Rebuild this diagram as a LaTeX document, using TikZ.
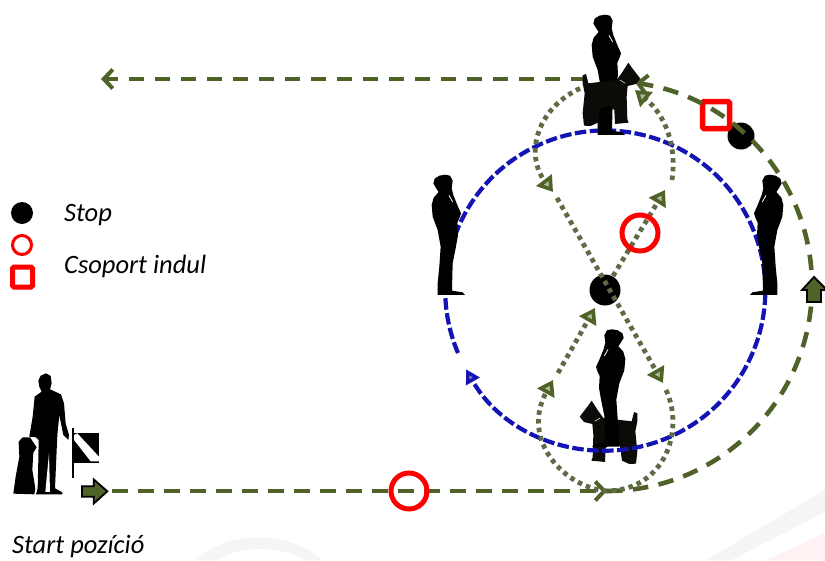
\documentclass[tikz,border=0pt]{standalone}
\usepackage{fontspec}
\setmainfont{Carlito}
\usetikzlibrary{arrows.meta}
\definecolor{olive}{HTML}{4F6228}
\definecolor{dotolive}{HTML}{5E6B45}
\definecolor{ringblue}{HTML}{1414B4}
\definecolor{markred}{HTML}{FF0000}
\definecolor{dogblack}{HTML}{0D0B08}
\tikzset{
  dashline/.style={draw=olive,line width=4.6pt,dash pattern=on 15.5pt off 10.5pt},
  dotline/.style={draw=dotolive,line width=4.8pt,dash pattern=on 4.5pt off 4.2pt},
  bluering/.style={draw=ringblue,line width=4.2pt,dash pattern=on 11.5pt off 3.5pt},
  dashtip/.style={-{Straight Barb[length=9pt,width=19pt,line width=4pt,color=olive]}},
  dottip/.style={-{Triangle[open,fill=olive!45!white,length=15pt,width=19pt,line width=3.6pt,color=olive]}},
  bluetip/.style={-{Triangle[open,fill=ringblue!55!white,length=14pt,width=15pt,line width=3.4pt,color=ringblue]}},
  redring/.style={circle,draw=markred,line width=5pt,minimum size=36pt,inner sep=0pt},
  stopdot/.style={circle,fill=black,inner sep=0pt},
  redbox/.style={draw=markred,line width=5.5pt,rounded corners=1.5pt,minimum size=27pt,inner sep=0pt},
  label/.style={anchor=base west,inner sep=0pt,font=\fontsize{26.5}{30}\selectfont\itshape,text=black},
  blockarrow/.style={draw=black,line width=1.8pt,fill=olive,line join=miter},
}
\newcommand{\personshape}{%
  \fill[black] (100,70) -- (104,56) -- (118,47) -- (135,44) -- (150,47) -- (158,62) -- (155,85) -- (160,105)
   -- (172,135) -- (183,160) -- (178,175) -- (172,188) -- (174,225) -- (167,265) -- (158,310) -- (156,392)
   -- (188,397) -- (195,405) -- (113,405) -- (113,370) -- (118,320) -- (122,260) -- (113,210) -- (98,170)
   -- (95,135) -- (101,113) -- (116,96) -- (108,84) -- cycle;
  \draw[white,line width=.8pt] (147,106) -- (158,126);
}
\newcommand{\dogshape}{%
  \fill[dogblack] (188,226) -- (198,222) -- (205,250) -- (290,240) -- (308,215) -- (325,188) -- (337,205)
   -- (361,236) -- (348,252) -- (323,258) -- (320,290) -- (322,358) -- (326,368) -- (285,372) -- (283,330)
   -- (268,318) -- (240,325) -- (234,368) -- (212,378) -- (192,377) -- (188,340) -- (194,280) -- (188,250) -- cycle;
  \draw[white,line width=.5pt] (300,240) -- (316,250);
}
\begin{document}
\begin{tikzpicture}[x=1pt,y=-1pt]
\useasboundingbox (0,0) rectangle (825,560);
% faint watermark
\fill[black!4] (197,560) .. controls (225,530) and (290,530) .. (322,560) -- (305,560) .. controls (280,545) and (240,545) .. (218,560) -- cycle;
\fill[black!4] (825,490) -- (825,512) -- (732,560) -- (706,560) -- cycle;
\fill[red!5] (825,533) -- (825,560) -- (766,560) -- cycle;

% named points of the course
\coordinate (startend) at (112,491);
\coordinate (base) at (607,491);
\coordinate (topleft) at (101,79);
\coordinate (topright) at (586,79);
\coordinate (centre) at (605,290);

% stop markers and boxes
\node[stopdot,minimum size=31pt] (stopc) at (centre) {};
\node[stopdot,minimum size=27pt] (stopt) at (741,136) {};
\node[redbox] (boxt) at (716,115) {};

% bottom dog lies under the blue ring
\begin{scope}[shift={(700,338)},x=-.3333pt,y=-.3333pt]\dogshape\end{scope}

% blue ring
\draw[bluering,bluetip] (458,353) arc[start angle=-203,end angle=150.5,radius=160];

% dashed course
\draw[dashline,dashtip] (startend) -- (base);
\draw[dashline,dashtip] (base) arc[start angle=90,end angle=-82,radius=205];
\draw[dashline,dashtip] (topright) -- (topleft);

% dotted figure of eight
\draw[dotline,dottip] (base) .. controls (565,488) and (520,440) .. (553,380);
\draw[dotline,dottip] (558,373) -- (595,308);
\draw[dotline,dottip] (613,276) -- (665,190);
\draw[dotline,dottip] (672,180) .. controls (677,145) and (665,115) .. (635,90);
\draw[dotline,dottip] (588,85) .. controls (535,105) and (525,155) .. (553,192);
\draw[dotline,dottip] (557,198) -- (663,383);
\draw[dotline] (666,390) .. controls (685,430) and (665,490) .. (base);

% red rings
\node[redring] (ringc) at (640,233) {};
\node[redring] (ringb) at (409,491) {};

% people and top dog
\begin{scope}[shift={(560,0)},x=.3333pt,y=-.3333pt]\personshape\end{scope}
\begin{scope}[shift={(520,0)},x=.3333pt,y=-.3333pt]\dogshape\end{scope}
\begin{scope}[shift={(400,160)},x=.3333pt,y=-.3333pt]\personshape\end{scope}
\begin{scope}[shift={(815,160)},x=-.3333pt,y=-.3333pt]\personshape\end{scope}
\begin{scope}[shift={(657,315)},x=-.3333pt,y=-.325pt]\personshape\end{scope}

% start position: handler, dog, flag
\begin{scope}[shift={(0,360)},x=.3333pt,y=-.3333pt]
  \fill[black] (115,62) -- (122,47) -- (138,40) -- (152,48) -- (155,70) -- (150,88) -- (183,103) -- (192,130)
   -- (197,190) -- (207,225) -- (205,240) -- (190,225) -- (178,165) -- (172,225) -- (165,385) -- (187,397)
   -- (187,403) -- (108,403) -- (113,385) -- (115,300) -- (116,240) -- (108,232) -- (88,230) -- (98,170) -- (104,110) -- (125,95) -- (118,80) -- cycle;
  \fill[white] (147,280) -- (136,396) -- (150,396) -- cycle;
  \fill[black] (56,245) -- (68,232) -- (90,232) -- (110,262) -- (100,278) -- (97,330) -- (106,385) -- (103,403) -- (40,401) -- (47,350) -- (58,290) -- cycle;
  \fill[black] (222,220) rectangle (297,308);
  \fill[white] (222,225) -- (232,220) -- (297,290) -- (297,304) -- (272,304) -- (222,240) -- cycle;
  \fill[black] (216,205) rectangle (222,355);
  \draw[blockarrow] (246,379) -- (281,379) -- (281,358) -- (322,394) -- (281,431) -- (281,410) -- (246,410) -- cycle;
\end{scope}

% upward block arrow on the outer course
\draw[blockarrow] (814,277) -- (827,290) -- (821,290) -- (821,302) -- (807,302) -- (807,290) -- (802,290) -- cycle;

% legend
\node[stopdot,minimum size=22pt] (legstop) at (22,213) {};
\node[circle,draw=markred,line width=3pt,minimum size=19pt,inner sep=0pt] (legring) at (22,245) {};
\node[draw=markred,line width=5pt,rounded corners=1.5pt,minimum size=20pt,inner sep=0pt] (legbox) at (22.5,277) {};
\node[label] (t1) at (64,221.5) {Stop};
\node[label] (t2) at (64,273.5) {Csoport indul};
\node[label] (t3) at (12,553) {Start pozíció};
\end{tikzpicture}
\end{document}
